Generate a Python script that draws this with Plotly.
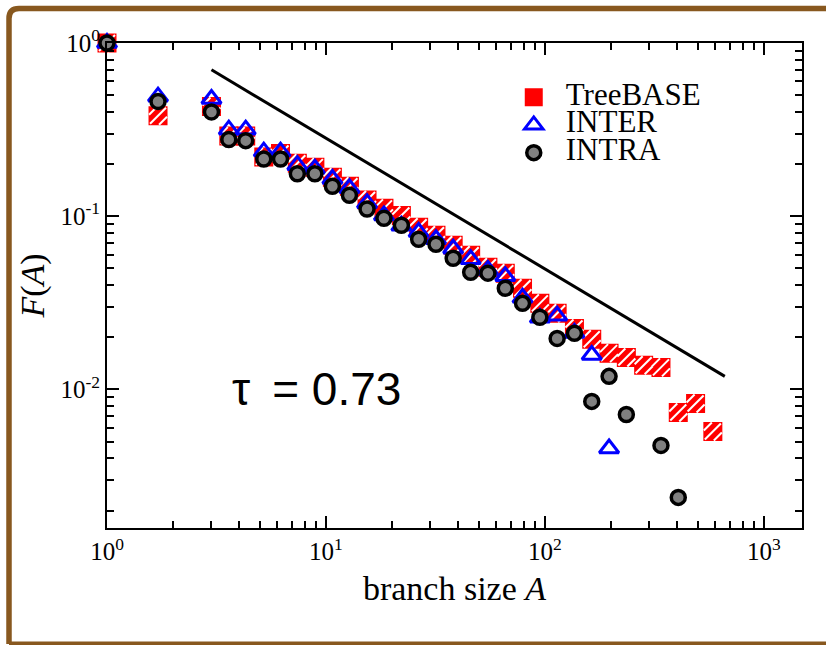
import plotly.graph_objects as go

# ---------------- data ----------------
A_tree = [1, 1.71, 3.0, 3.6, 4.3, 5.2, 6.2, 7.4, 8.9, 10.7, 12.8, 15.4, 18.4, 22.1,
          26.5, 31.8, 38.1, 45.8, 54.9, 65.9, 79.0, 94.8, 113.7, 136.4, 163.6,
          196.3, 235.4, 282.4, 338.8, 406.4, 487.5, 584.6]
F_tree = [1.0, 0.38, 0.43, 0.29, 0.29, 0.22, 0.23, 0.202, 0.192, 0.168, 0.149,
          0.124, 0.111, 0.101, 0.0863, 0.0777, 0.068, 0.0595, 0.0507, 0.0469,
          0.0384, 0.0314, 0.0275, 0.0225, 0.0195, 0.0162, 0.0153, 0.0138, 0.0134,
          0.00736, 0.0083, 0.00572]

A_inter = [1, 1.71, 3.0, 3.6, 4.3, 5.2, 6.2, 7.4, 8.9, 10.7, 12.8, 15.4, 18.4,
           22.1, 26.5, 31.8, 38.1, 45.8, 54.9, 65.9, 79.0, 94.8, 113.7, 136.4,
           163.6, 196.3]
F_inter = [1.0, 0.49, 0.475, 0.316, 0.316, 0.236, 0.236, 0.197, 0.188, 0.164,
           0.145, 0.119, 0.101, 0.088, 0.081, 0.0736, 0.0649, 0.0564, 0.049,
           0.045, 0.0338, 0.0259, 0.0266, 0.0212, 0.0158, 0.00456]

A_intra = [1, 1.71, 3.0, 3.6, 4.3, 5.2, 6.2, 7.4, 8.9, 10.7, 12.8, 15.4, 18.4,
           22.1, 26.5, 31.8, 38.1, 45.8, 54.9, 65.9, 79.0, 94.8, 113.7, 136.4,
           163.6, 196.3, 235.4, 338.8, 406.4]
F_intra = [1.0, 0.46, 0.40, 0.277, 0.273, 0.214, 0.214, 0.176, 0.176, 0.149,
           0.132, 0.110, 0.0974, 0.0887, 0.0736, 0.0689, 0.0572, 0.0475, 0.0469,
           0.0384, 0.0314, 0.0261, 0.0197, 0.0211, 0.00853, 0.0119, 0.00716,
           0.00475, 0.00238]

fit_A = [3.0, 663]
fit_F = [0.70, 0.0119]

x_tickvals = [1, 10, 100, 1000]
x_ticktext = ["10<sup>0</sup>", "10<sup>1</sup>", "10<sup>2</sup>", "10<sup>3</sup>"]
x_minor = [2, 3, 4, 5, 6, 7, 8, 9, 20, 30, 40, 50, 60, 70, 80, 90,
           200, 300, 400, 500, 600, 700, 800, 900]
y_tickvals = [0.01, 0.1, 1]
y_ticktext = ["10<sup>-2</sup>", "10<sup>-1</sup>", "10<sup>0</sup>"]
y_minor = [0.002, 0.003, 0.004, 0.005, 0.006, 0.007, 0.008, 0.009,
           0.02, 0.03, 0.04, 0.05, 0.06, 0.07, 0.08, 0.09,
           0.2, 0.3, 0.4, 0.5, 0.6, 0.7, 0.8, 0.9]

# ---------------- figure ----------------
SERIF = "Liberation Serif"
LEG = "<span style='font-size:31px'>{}</span>"
X_RANGE = [0, 3.174]
Y_RANGE = [-2.80, 0]
# hatch stripe offset (style): 5 px expressed in log-decades of each axis
DX = 5 / 219.0
DY = 5 / 173.2

fig = go.Figure()

fig.add_trace(go.Scatter(x=fit_A, y=fit_F, mode="lines",
                         line=dict(color="black", width=3), showlegend=False,
                         hoverinfo="skip"))

fig.add_trace(go.Scatter(x=A_tree, y=F_tree, mode="markers",
                         name=LEG.format("TreeBASE"),
                         marker=dict(symbol="square", size=17, color="#ff0000",
                                     line=dict(color="#ff0000", width=2)),
                         cliponaxis=False, legendgroup="tree"))
# hatch: centre stripe + two offset stripes (drawn on shifted overlay axes)
fig.add_trace(go.Scatter(x=A_tree, y=F_tree, mode="markers",
                         marker=dict(symbol="line-ne", size=16,
                                     line=dict(color="white", width=2)),
                         cliponaxis=False, showlegend=False, legendgroup="tree",
                         hoverinfo="skip"))
for xa, ya in (("x2", "y2"), ("x3", "y3")):
    fig.add_trace(go.Scatter(x=A_tree, y=F_tree, mode="markers", xaxis=xa, yaxis=ya,
                             marker=dict(symbol="line-ne", size=8,
                                         line=dict(color="white", width=2)),
                             cliponaxis=False, showlegend=False,
                             legendgroup="tree", hoverinfo="skip"))

fig.add_trace(go.Scatter(x=A_inter, y=F_inter, mode="markers", xaxis="x4", yaxis="y4",
                         name=LEG.format("INTER"),
                         marker=dict(symbol="triangle-up-open", size=17,
                                     color="#0000ff",
                                     line=dict(color="#0000ff", width=3)),
                         cliponaxis=False))

fig.add_trace(go.Scatter(x=A_intra, y=F_intra, mode="markers", xaxis="x4", yaxis="y4",
                         name=LEG.format("INTRA"),
                         marker=dict(symbol="circle", size=14, color="#808080",
                                     line=dict(color="black", width=3.5)),
                         cliponaxis=False))

axis_common = dict(
    type="log", showgrid=False, zeroline=False,
    showline=True, linecolor="black", linewidth=2, mirror="allticks",
    ticks="inside", ticklen=12, tickwidth=2, tickcolor="black",
    tickfont=dict(family=SERIF, size=25, color="black"),
    tickmode="array",
    minor=dict(ticks="inside", ticklen=7, tickwidth=1.5, tickcolor="black",
               showgrid=False),
)

fig.update_layout(
    xaxis=dict(**axis_common, range=X_RANGE, tickvals=x_tickvals,
               ticktext=x_ticktext,
               title=dict(text="branch size <i>A</i>",
                          font=dict(family=SERIF, size=34, color="black"),
                          standoff=12)),
    yaxis=dict(**axis_common, range=Y_RANGE, tickvals=y_tickvals,
               ticktext=y_ticktext,
               title=dict(text="<i>F</i>(<i>A</i>)",
                          font=dict(family=SERIF, size=34, color="black"),
                          standoff=6)),
    xaxis2=dict(type="log", range=[X_RANGE[0] - DX, X_RANGE[1] - DX],
                overlaying="x", anchor="y2", visible=False),
    yaxis2=dict(type="log", range=[Y_RANGE[0] + DY, Y_RANGE[1] + DY],
                overlaying="y", anchor="x2", visible=False),
    xaxis3=dict(type="log", range=[X_RANGE[0] + DX, X_RANGE[1] + DX],
                overlaying="x", anchor="y3", visible=False),
    yaxis3=dict(type="log", range=[Y_RANGE[0] - DY, Y_RANGE[1] - DY],
                overlaying="y", anchor="x3", visible=False),
    xaxis4=dict(type="log", range=X_RANGE, overlaying="x", anchor="y4",
                visible=False),
    yaxis4=dict(type="log", range=Y_RANGE, overlaying="y", anchor="x4",
                visible=False),
)
fig.update_layout(xaxis_minor_tickvals=x_minor, yaxis_minor_tickvals=y_minor)

fig.add_annotation(text="τ \u2009= 0.73", xref="paper", yref="paper",
                   x=0.301, y=0.287, xanchor="center", yanchor="middle",
                   showarrow=False,
                   font=dict(family="Liberation Sans", size=46, color="black"))

# brown frame around the picture (paper coords)
xl, xr = (9 - 107) / 695, (845 - 107) / 695
yt, yb = (528 - 8.5) / 485, (528 - 644) / 485
dx, dy = 10 / 695, 10 / 485
path = (f"M {xr},{yt} L {xl+dx},{yt} Q {xl},{yt} {xl},{yt-dy} "
        f"L {xl},{yb} ")
fig.add_shape(type="path", path=path, xref="paper", yref="paper",
              line=dict(color="#88581f", width=5.5))
fig.add_shape(type="line", x0=xl, x1=xr, y0=yb, y1=yb, xref="paper", yref="paper",
              line=dict(color="#88581f", width=5))

fig.update_layout(
    width=826, height=645,
    margin=dict(l=107, r=24, t=43, b=117),
    paper_bgcolor="white", plot_bgcolor="white",
    legend=dict(x=0.568, y=0.927, xanchor="left", yanchor="top",
                font=dict(family=SERIF, size=19, color="black"),
                bgcolor="rgba(0,0,0,0)", tracegroupgap=0, itemsizing="trace",
                itemwidth=54),
    showlegend=True,
)

fig.write_html("out.html", config={"displayModeBar": False},
               post_script="document.body.style.margin='0';")
